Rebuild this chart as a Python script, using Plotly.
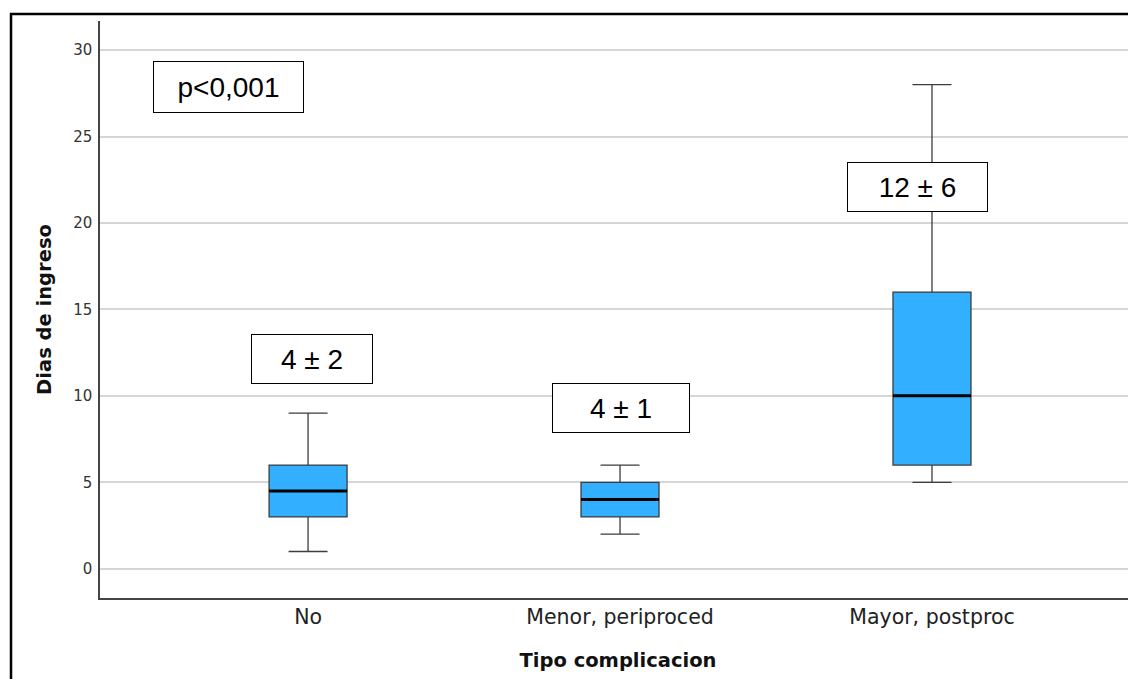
import plotly.graph_objects as go

categories = ["No", "Menor, periproced", "Mayor, postproc"]
lower_whisker = [1, 2, 5]
q1 = [3, 3, 6]
median = [4.5, 4, 10]
q3 = [6, 5, 16]
upper_whisker = [9, 6, 28]

label_texts = ["4 ± 2", "4 ± 1", "12 ± 6"]
label_x = [0.014, 1.002, 1.952]
label_y = [12.16, 9.32, 22.1]
label_w = [120, 136, 139]
p_text = "p<0,001"

y_ticks = [0, 5, 10, 15, 20, 25, 30]

BOX_W = 0.25
fig = go.Figure()
for i, c in enumerate(categories):
    fig.add_trace(go.Box(
        x=[i], q1=[q1[i]], median=[median[i]], q3=[q3[i]],
        lowerfence=[lower_whisker[i]], upperfence=[upper_whisker[i]],
        width=BOX_W, whiskerwidth=0.5,
        fillcolor="#33AFFF", line=dict(color="#3d3d3d", width=1.3),
        boxpoints=False, showlegend=False, name=c, hoverinfo="skip"))
    fig.add_trace(go.Scatter(
        x=[i - BOX_W / 2, i + BOX_W / 2], y=[median[i], median[i]],
        mode="lines", line=dict(color="black", width=3),
        showlegend=False, hoverinfo="skip"))

ann_font = dict(family="Liberation Sans, Arial", size=28, color="black")
for t, x, y, w in zip(label_texts, label_x, label_y, label_w):
    fig.add_annotation(x=x, y=y, xref="x", yref="y", text=t, showarrow=False,
                       font=ann_font, bordercolor="black", borderwidth=1,
                       borderpad=0, width=w, height=48, bgcolor="white")
fig.add_annotation(x=-0.256, y=27.89, xref="x", yref="y", text=p_text,
                   showarrow=False, font=ann_font, bordercolor="black",
                   borderwidth=1, borderpad=0, width=149, height=50,
                   bgcolor="white")

# outer frame
fig.add_shape(type="rect", xref="paper", yref="paper",
              x0=-0.0859, x1=1.01, y0=-0.16, y1=1.0121,
              line=dict(color="black", width=2.5), layer="above")

fig.update_layout(
    width=1128, height=671,
    margin=dict(l=92, r=0, t=13, b=81),
    paper_bgcolor="white", plot_bgcolor="white",
    font=dict(family="DejaVu Sans", color="#222"),
    xaxis=dict(range=[-0.667, 2.654], tickvals=list(range(len(categories))),
               ticktext=categories, showgrid=False, zeroline=False,
               showline=True, linecolor="#444", linewidth=1.5,
               ticks="", tickfont=dict(size=20.5, color="#222"),
               title=dict(text="<b>Tipo complicacion</b>",
                          font=dict(size=19.5, color="#111"), standoff=25)),
    yaxis=dict(range=[-1.69, 31.68], tickvals=y_ticks, showgrid=True,
               gridcolor="#d6d6d6", gridwidth=1.5, zeroline=False,
               showline=True, linecolor="#444", linewidth=1.5, ticks="",
               ticklabelstandoff=3,
               tickfont=dict(size=15, color="#333"),
               title=dict(text="<b>Dias de ingreso</b>",
                          font=dict(size=19.5, color="#111"), standoff=16)),
)

fig.write_html("out.html")
